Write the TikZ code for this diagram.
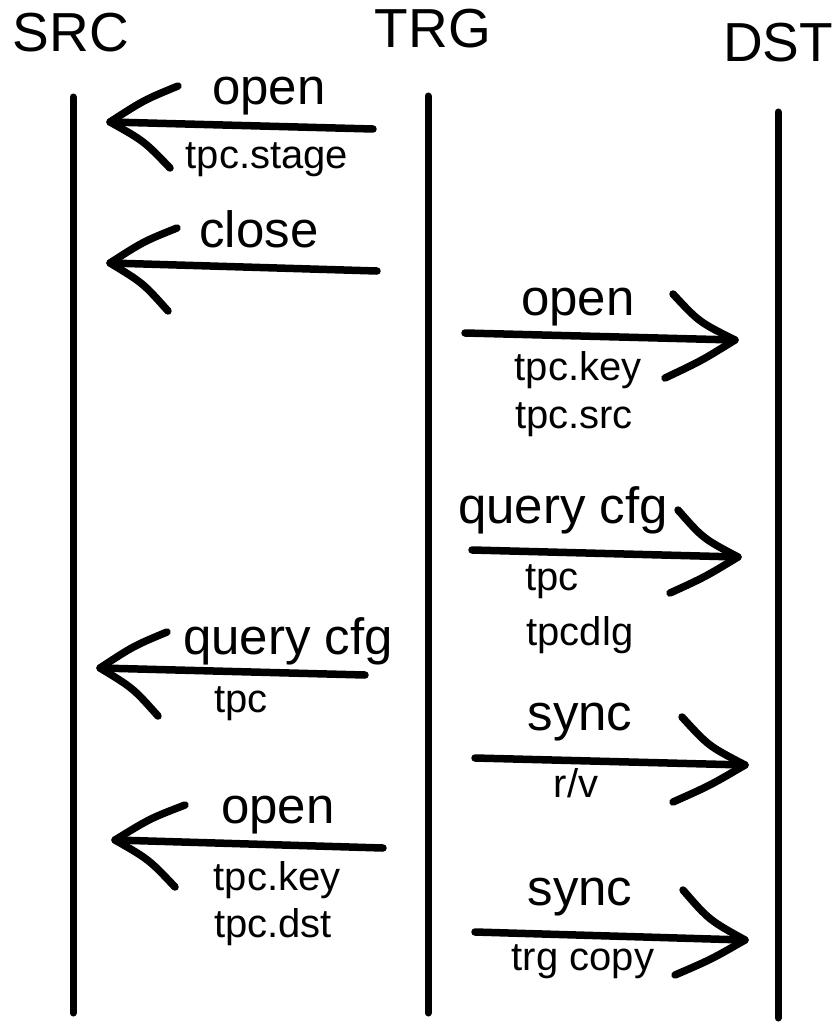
\documentclass[tikz,border=0pt]{standalone}
\usepackage{fontspec}
\setmainfont{Liberation Sans}
\usetikzlibrary{calc}
\tikzset{
  lifeline/.style={line width=7pt, line cap=round},
  msg/.style={line width=7.5pt, line cap=round, line join=round},
  big/.style={font=\fontsize{51}{55}\selectfont, anchor=base, inner sep=0pt},
  small/.style={font=\fontsize{40}{44}\selectfont, anchor=base, inner sep=0pt},
  title/.style={font=\fontsize{55}{60}\selectfont, anchor=base, inner sep=0pt}
}
% left-pointing head: top end, tip, bottom end
\newcommand{\seqheadL}[3]{%
  \draw[msg] (#1) .. controls ($(#1)!0.5!(#2)+(0,-4)$) .. (#2)
    .. controls ($(#2)!0.5!(#3)+(4,-4)$) .. (#3);}
% right-pointing head: top end, tip, bottom end
\newcommand{\seqheadR}[3]{%
  \draw[msg] (#1) .. controls ($(#1)!0.5!(#2)+(-5,5)$) .. (#2)
    .. controls ($(#2)!0.5!(#3)+(1,2)$) .. (#3);}
\begin{document}
\begin{tikzpicture}[x=1pt,y=-1pt]
\useasboundingbox[fill=white] (0,0) rectangle (833,1030);

% titles
\node[title] (src) at (71,52) {SRC};
\node[title] (trg) at (433,48) {TRG};
\node[title] (dst) at (778,62) {DST};

% lifelines
\coordinate (srcT) at (73,97);  \coordinate (srcB) at (73,1013);
\coordinate (trgT) at (428,96); \coordinate (trgB) at (428,1013);
\coordinate (dstT) at (778,112); \coordinate (dstB) at (778,1018);
\draw[lifeline] (srcT) -- (srcB);
\draw[lifeline] (trgT) -- (trgB);
\draw[lifeline] (dstT) -- (dstB);

% 1: open (TRG -> SRC)
\coordinate (s1) at (373,129); \coordinate (t1) at (110,122);
\coordinate (a1) at (178,86);  \coordinate (b1) at (170,168);
\draw[msg] (s1) -- (t1); \seqheadL{a1}{t1}{b1}
\node[big] (l1) at (269,105) {open};
\node[small] (m1) at (267,168) {tpc.stage};

% 2: close (TRG -> SRC)
\coordinate (s2) at (377,271); \coordinate (t2) at (110,263);
\coordinate (a2) at (177,228); \coordinate (b2) at (168,311);
\draw[msg] (s2) -- (t2); \seqheadL{a2}{t2}{b2}
\node[big] (l2) at (259,247) {close};

% 3: open (TRG -> DST)
\coordinate (s3) at (465,333); \coordinate (t3) at (735,340);
\coordinate (a3) at (673,294); \coordinate (b3) at (665,378);
\draw[msg] (s3) -- (t3); \seqheadR{a3}{t3}{b3}
\node[big] (l3) at (578,315) {open};
\node[small] (m3) at (578,380) {tpc.key};
\node[small] (n3) at (574,428) {tpc.src};

% 4: query cfg (TRG -> DST)
\coordinate (s4) at (472,550); \coordinate (t4) at (738,557);
\coordinate (a4) at (678,510); \coordinate (b4) at (670,593);
\draw[msg] (s4) -- (t4); \seqheadR{a4}{t4}{b4}
\node[big] (l4) at (563,523) {query cfg};
\node[small] (m4) at (552,590) {tpc};
\node[small] (n4) at (580,645) {tpcdlg};

% 5: query cfg (TRG -> SRC)
\coordinate (s5) at (365,675); \coordinate (t5) at (100,668);
\coordinate (a5) at (167,632); \coordinate (b5) at (158,716);
\draw[msg] (s5) -- (t5); \seqheadL{a5}{t5}{b5}
\node[big] (l5) at (288,654) {query cfg};
\node[small] (m5) at (241,712) {tpc};

% 6: sync (TRG -> DST)
\coordinate (s6) at (475,758); \coordinate (t6) at (745,765);
\coordinate (a6) at (682,717); \coordinate (b6) at (673,802);
\draw[msg] (s6) -- (t6); \seqheadR{a6}{t6}{b6}
\node[big] (l6) at (580,730) {sync};
\node[small] (m6) at (576,797) {r/v};

% 7: open (TRG -> SRC)
\coordinate (s7) at (383,848); \coordinate (t7) at (115,840);
\coordinate (a7) at (185,805); \coordinate (b7) at (175,887);
\draw[msg] (s7) -- (t7); \seqheadL{a7}{t7}{b7}
\node[big] (l7) at (278,823) {open};
\node[small] (m7) at (277,890) {tpc.key};
\node[small] (n7) at (273,937) {tpc.dst};

% 8: sync (TRG -> DST)
\coordinate (s8) at (475,932); \coordinate (t8) at (745,940);
\coordinate (a8) at (683,890); \coordinate (b8) at (675,975);
\draw[msg] (s8) -- (t8); \seqheadR{a8}{t8}{b8}
\node[big] (l8) at (580,905) {sync};
\node[small] (m8) at (583,970) {trg copy};
\end{tikzpicture}
\end{document}
